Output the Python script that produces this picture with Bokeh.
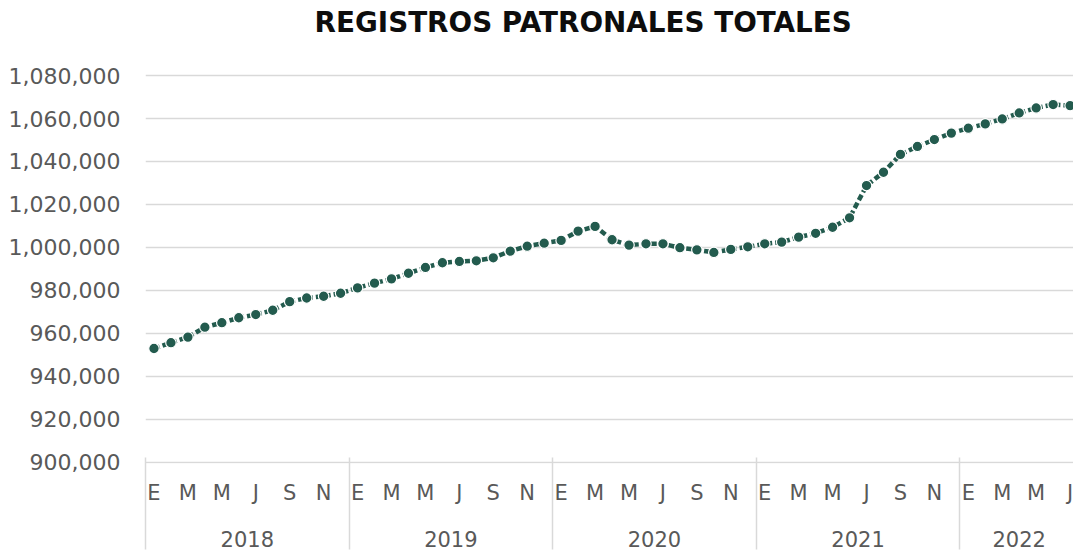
from bokeh.plotting import figure
from bokeh.models import Range1d, LinearAxis, FixedTicker, NumeralTickFormatter, Label
from bokeh.embed import file_html
from bokeh.resources import INLINE

# ---------------- data ----------------
years = ["2018", "2019", "2020", "2021", "2022"]
month_letters = ["E", "F", "M", "A", "M", "J", "J", "A", "S", "O", "N", "D"]
shown_months = [0, 2, 4, 6, 8, 10]  # E M M J S N

reg_2018 = [953000, 955700, 958300, 962900, 965000, 967300, 968800, 970800, 974800, 976500, 977300, 978700]
reg_2019 = [981200, 983400, 985400, 988000, 990700, 992900, 993500, 993800, 995200, 998300, 1000600, 1002000]
reg_2020 = [1003300, 1007600, 1009800, 1003600, 1001100, 1001700, 1001700, 999900, 998900, 997700, 999100, 1000300]
reg_2021 = [1001700, 1002500, 1004800, 1006600, 1009400, 1013800, 1028800, 1035000, 1043300, 1047000, 1050200, 1053200]
reg_2022 = [1055500, 1057500, 1059800, 1062600, 1064900, 1066500, 1066000]

y_ticks = [900000, 920000, 940000, 960000, 980000, 1000000, 1020000, 1040000, 1060000, 1080000]
title_text = "REGISTROS PATRONALES TOTALES"

# ---------------- derived ----------------
series = [reg_2018, reg_2019, reg_2020, reg_2021, reg_2022]
values = [v for s in series for v in s]
xs = list(range(len(values)))

month_ticks, month_over = [], {}
year_centers, year_over, year_bounds = [], {}, []
start = 0
for yr, s in zip(years, series):
    for m in shown_months:
        if m < len(s):
            month_ticks.append(start + m)
            month_over[start + m] = month_letters[m]
    c = start + (len(s) - 1) / 2
    year_centers.append(c)
    year_over[c] = yr
    year_bounds.append(start - 0.5)
    start += len(s)

GREEN = "#235B4E"
GREY_TXT = "#595959"
GRID = "#d9d9d9"
FONT = "DejaVu Sans"

# the frame reaches the top edge so that the title (drawn inside it) is not clipped
p = figure(width=1073, height=552, output_backend="svg", toolbar_location=None,
           x_range=Range1d(-0.5, len(values) - 0.8),
           y_range=Range1d(899500, 1114900),
           x_axis_type=None,
           min_border_left=145, min_border_right=0, min_border_top=0, min_border_bottom=89)
p.outline_line_color = None
p.background_fill_color = "white"
p.border_fill_color = "white"

title = Label(text=title_text, x=25.3, y=1104700,
              text_align="center", text_baseline="alphabetic",
              text_font=FONT, text_font_size="27.8px", text_font_style="bold",
              text_color="#0d0d0d")
p.add_layout(title)

# y axis
p.yaxis.ticker = FixedTicker(ticks=y_ticks)
p.yaxis.formatter = NumeralTickFormatter(format="0,0")
p.yaxis.axis_line_color = None
p.yaxis.major_tick_line_color = None
p.yaxis.minor_tick_line_color = None
p.yaxis.major_tick_out = 0
p.yaxis.major_tick_in = 0
p.yaxis.major_label_standoff = 25
p.yaxis.major_label_text_font = FONT
p.yaxis.major_label_text_font_size = "22px"
p.yaxis.major_label_text_color = GREY_TXT

p.ygrid.ticker = FixedTicker(ticks=y_ticks)
p.ygrid.grid_line_color = GRID
p.ygrid.grid_line_width = 1.5

# month letters
month_axis = LinearAxis(
    ticker=FixedTicker(ticks=month_ticks, minor_ticks=[]),
    major_label_overrides=month_over,
    axis_line_color=None,
    major_tick_line_color=None, major_tick_out=0, major_tick_in=0,
    minor_tick_line_color=None, minor_tick_out=0, minor_tick_in=0,
    major_label_standoff=17,
    major_label_text_font=FONT, major_label_text_font_size="21px",
    major_label_text_color=GREY_TXT)
p.add_layout(month_axis, "below")

# year labels
year_axis = LinearAxis(
    ticker=FixedTicker(ticks=year_centers, minor_ticks=[]),
    major_label_overrides=year_over,
    axis_line_color=None,
    major_tick_line_color=None, major_tick_out=0, major_tick_in=0,
    minor_tick_line_color=None, minor_tick_out=0, minor_tick_in=0,
    major_label_standoff=23,
    major_label_text_font=FONT, major_label_text_font_size="21px",
    major_label_text_color=GREY_TXT)
p.add_layout(year_axis, "below")

# year separators: inward minor ticks of a bottom-most, label-free axis
sep_axis = LinearAxis(
    ticker=FixedTicker(ticks=[], minor_ticks=year_bounds),
    axis_line_color=None,
    major_tick_line_color=None, major_tick_out=0, major_tick_in=0,
    minor_tick_out=0, minor_tick_in=92,
    minor_tick_line_color=GRID, minor_tick_line_width=1.5,
    major_label_standoff=0)
p.add_layout(sep_axis, "below")

# series
p.line(xs, values, line_color=GREEN, line_width=4.5, line_dash="6 3")
p.scatter(xs, values, size=10.5, fill_color=GREEN, line_color="white", line_width=1.2)

open("out.html", "w").write(file_html(p, INLINE))
